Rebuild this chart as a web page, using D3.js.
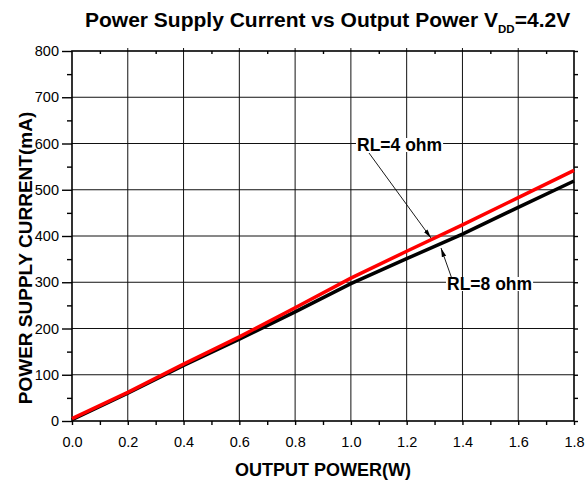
<!DOCTYPE html>
<html>
<head>
<meta charset="utf-8">
<script src="https://cdn.jsdelivr.net/npm/d3@7"></script>
<style>
  body { margin: 0; background: #fff; }
  svg { font-family: "Liberation Sans", Arial, sans-serif; }
</style>
</head>
<body>
<svg id="chart" width="585" height="483"></svg>
<script>
// data
let power = [0, 0.2, 0.4, 0.6, 0.8, 1.0, 1.2, 1.4, 1.6, 1.8]
let current4 = [5, 62, 123, 182, 245, 309, 367, 424, 483, 542]
let current8 = [3, 60, 120, 177, 236, 297, 351, 404, 462, 519]
let xTicks = [0, 0.2, 0.4, 0.6, 0.8, 1.0, 1.2, 1.4, 1.6, 1.8]
let yTicks = [0, 100, 200, 300, 400, 500, 600, 700, 800]

let svg = d3.select("#chart")

let x = d3.scaleLinear().domain([0, 1.8]).range([72, 574])
let y = d3.scaleLinear().domain([0, 800]).range([421, 51])

// grid
svg.append("g").selectAll("line").data(xTicks.slice(1, -1)).enter()
    .append("line")
    .attr("x1", d => x(d)).attr("x2", d => x(d))
    .attr("y1", y(0)).attr("y2", y(800) - 3)
    .attr("stroke", "#111").attr("stroke-width", 1)
svg.append("g").selectAll("line").data(yTicks.slice(1, -1)).enter()
    .append("line")
    .attr("x1", x(0)).attr("x2", x(1.8))
    .attr("y1", d => y(d)).attr("y2", d => y(d))
    .attr("stroke", "#111").attr("stroke-width", 1)

// axes, ticks pointing out
let xMinor = d3.range(0.1, 1.8, 0.2)
let yMinor = d3.range(50, 800, 100)

svg.append("g").attr("transform", "translate(0," + y(0) + ")")
    .call(d3.axisBottom(x).tickValues(xTicks).tickFormat(d3.format(".1f")).tickSize(4).tickPadding(12))
svg.append("g").attr("transform", "translate(0," + y(0) + ")")
    .call(d3.axisBottom(x).tickValues(xMinor).tickFormat("").tickSize(4))

svg.append("g").attr("transform", "translate(" + x(0) + ",0)")
    .call(d3.axisLeft(y).tickValues(yTicks).tickSize(10).tickPadding(3))
svg.append("g").attr("transform", "translate(" + x(0) + ",0)")
    .call(d3.axisLeft(y).tickValues(yMinor).tickFormat("").tickSize(5))

svg.append("g").attr("transform", "translate(0," + y(800) + ")")
    .call(d3.axisBottom(x).tickValues(xMinor).tickFormat("").tickSize(3))
svg.append("g").attr("transform", "translate(" + x(1.8) + ",0)")
    .call(d3.axisRight(y).tickValues(yTicks.concat(yMinor)).tickFormat("").tickSize(4))

svg.selectAll(".domain").remove()
svg.selectAll(".tick line").attr("stroke", "#000").attr("stroke-width", 1.4)
svg.selectAll(".tick text").attr("font-size", 14.5).attr("fill", "#000")
    .style("font-family", "'Liberation Sans', Arial, sans-serif")

svg.append("rect")
    .attr("x", x(0)).attr("y", y(800))
    .attr("width", x(1.8) - x(0)).attr("height", y(0) - y(800))
    .attr("fill", "none").attr("stroke", "#000").attr("stroke-width", 1.6)

// curves
let line = d3.line().x(d => x(d[0])).y(d => y(d[1]))

svg.append("path")
    .datum(d3.zip(power, current8))
    .attr("d", line)
    .attr("fill", "none").attr("stroke", "#000").attr("stroke-width", 3.5)
svg.append("path")
    .datum(d3.zip(power, current4))
    .attr("d", line)
    .attr("fill", "none").attr("stroke", "#ff0000").attr("stroke-width", 3.5)

// annotations
svg.append("defs").append("marker")
    .attr("id", "arrow")
    .attr("viewBox", "0 0 10 10")
    .attr("refX", 10).attr("refY", 5)
    .attr("markerWidth", 9).attr("markerHeight", 9)
    .attr("markerUnits", "userSpaceOnUse")
    .attr("orient", "auto")
    .append("path").attr("d", "M0,2.5L10,5L0,7.5Z").attr("fill", "#000")

function label(txt, tx, ty, ax1, ay1, ax2, ay2){
    svg.append("line")
        .attr("x1", ax1).attr("y1", ay1).attr("x2", ax2).attr("y2", ay2)
        .attr("stroke", "#000").attr("stroke-width", 0.9)
        .attr("marker-end", "url(#arrow)")
    let bg = svg.append("rect").attr("fill", "#fff")
    let t = svg.append("text")
        .attr("x", tx).attr("y", ty)
        .attr("font-size", 17.5).attr("font-weight", "bold")
        .text(txt)
    let bb = t.node().getBBox()
    bg.attr("x", bb.x - 1).attr("y", bb.y + 3)
        .attr("width", bb.width + 2).attr("height", bb.height - 6)
}
label("RL=4 ohm", 357, 151, 369, 153, 431, 238)
label("RL=8 ohm", 447, 290, 452, 279, 441, 248)

// title and axis titles
let title = svg.append("text")
    .attr("x", 85).attr("y", 27)
    .attr("font-size", 21).attr("font-weight", "bold")
title.append("tspan").text("Power Supply Current vs Output Power V")
title.append("tspan").attr("font-size", 11.5).attr("dy", 6).text("DD")
title.append("tspan").attr("dy", -6).text("=4.2V")

svg.append("text")
    .attr("x", x(0.9)).attr("y", 476)
    .attr("text-anchor", "middle")
    .attr("font-size", 18).attr("font-weight", "bold")
    .text("OUTPUT POWER(W)")

svg.append("text")
    .attr("transform", "translate(32,258) rotate(-90)")
    .attr("text-anchor", "middle")
    .attr("font-size", 19).attr("font-weight", "bold")
    .text("POWER SUPPLY CURRENT(mA)")
</script>
</body>
</html>
